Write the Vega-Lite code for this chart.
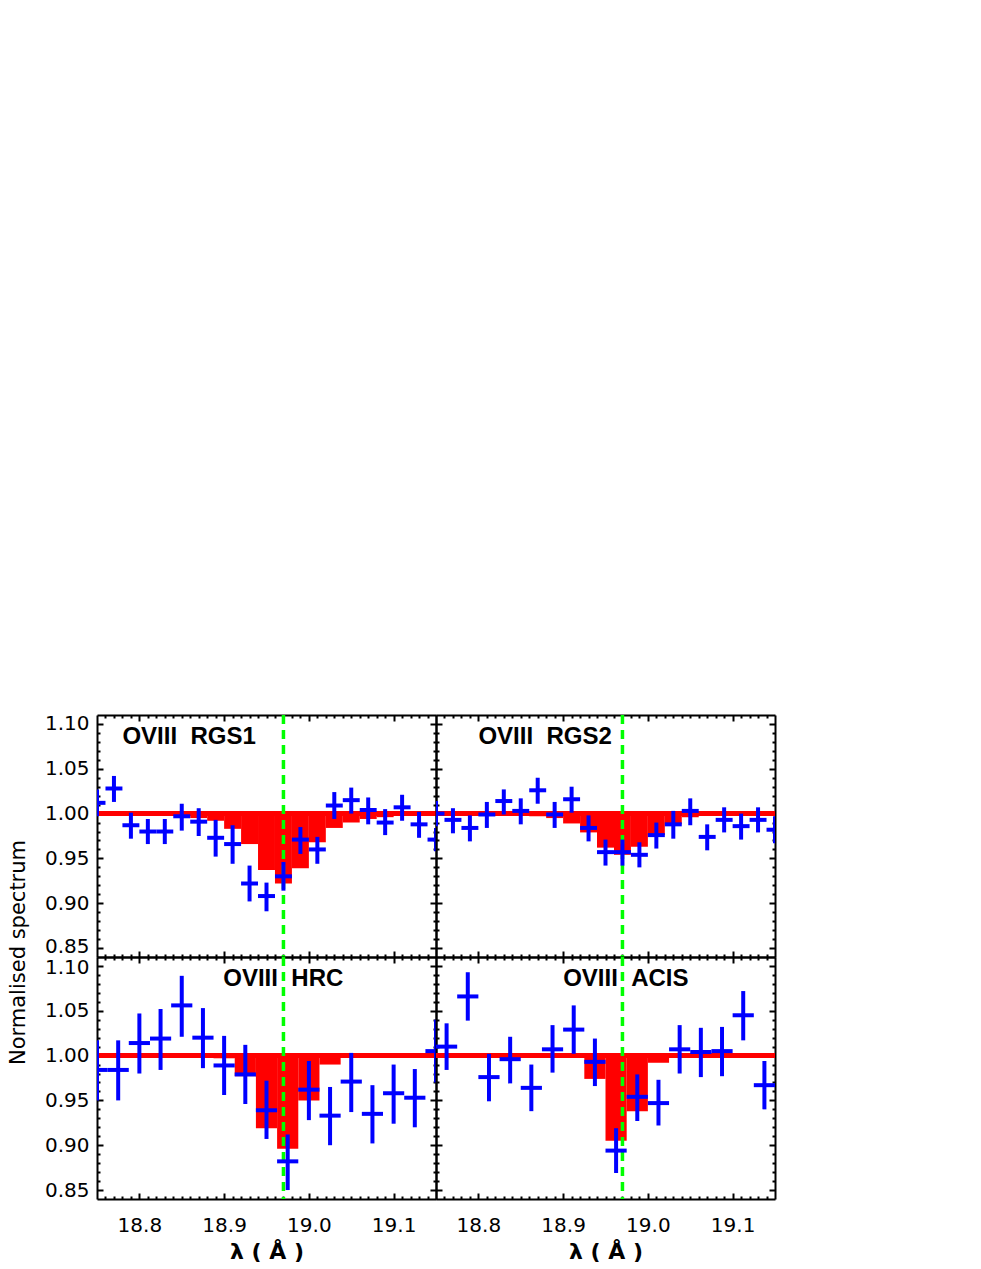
{
  "$schema": "https://vega.github.io/schema/vega-lite/v6.json",
  "autosize": "none",
  "padding": {"left": 97, "top": 715, "right": 884, "bottom": 554},
  "background": "white",
  "config": {
    "view": {"stroke": null},
    "axis": {"domainColor": "black", "domainWidth": 2, "tickColor": "black", "tickWidth": 2, "grid": false,
      "labelFont": "DejaVu Sans", "labelFontSize": 20, "labelColor": "black", "labelOverlap": false, "labelFlush": false,
      "titleFont": "DejaVu Sans", "titleColor": "black", "titleFontWeight": "normal", "titleFontSize": 21}
  },
  "datasets": {
    "rgs1_pts": [
      {"x": 18.75, "xl": 18.74, "xh": 18.76, "v": 1.012, "lo": 0.997, "hi": 1.027},
      {"x": 18.77, "xl": 18.76, "xh": 18.78, "v": 1.028, "lo": 1.013, "hi": 1.042},
      {"x": 18.79, "xl": 18.78, "xh": 18.80, "v": 0.987, "lo": 0.972, "hi": 1.001},
      {"x": 18.81, "xl": 18.80, "xh": 18.82, "v": 0.980, "lo": 0.966, "hi": 0.994},
      {"x": 18.83, "xl": 18.82, "xh": 18.84, "v": 0.980, "lo": 0.966, "hi": 0.994},
      {"x": 18.85, "xl": 18.84, "xh": 18.86, "v": 0.997, "lo": 0.981, "hi": 1.011},
      {"x": 18.87, "xl": 18.86, "xh": 18.88, "v": 0.991, "lo": 0.975, "hi": 1.006},
      {"x": 18.89, "xl": 18.88, "xh": 18.90, "v": 0.973, "lo": 0.952, "hi": 0.993},
      {"x": 18.91, "xl": 18.90, "xh": 18.92, "v": 0.966, "lo": 0.944, "hi": 0.987},
      {"x": 18.93, "xl": 18.92, "xh": 18.94, "v": 0.922, "lo": 0.902, "hi": 0.942},
      {"x": 18.95, "xl": 18.94, "xh": 18.96, "v": 0.908, "lo": 0.891, "hi": 0.923},
      {"x": 18.97, "xl": 18.96, "xh": 18.98, "v": 0.930, "lo": 0.914, "hi": 0.946},
      {"x": 18.99, "xl": 18.98, "xh": 19.00, "v": 0.971, "lo": 0.955, "hi": 0.985},
      {"x": 19.01, "xl": 19.00, "xh": 19.02, "v": 0.960, "lo": 0.944, "hi": 0.974},
      {"x": 19.03, "xl": 19.02, "xh": 19.04, "v": 1.009, "lo": 0.994, "hi": 1.024},
      {"x": 19.05, "xl": 19.04, "xh": 19.06, "v": 1.015, "lo": 1.000, "hi": 1.029},
      {"x": 19.07, "xl": 19.06, "xh": 19.08, "v": 1.004, "lo": 0.988, "hi": 1.018},
      {"x": 19.09, "xl": 19.08, "xh": 19.10, "v": 0.990, "lo": 0.976, "hi": 1.005},
      {"x": 19.11, "xl": 19.10, "xh": 19.12, "v": 1.007, "lo": 0.992, "hi": 1.021},
      {"x": 19.13, "xl": 19.12, "xh": 19.14, "v": 0.988, "lo": 0.973, "hi": 1.002},
      {"x": 19.15, "xl": 19.14, "xh": 19.16, "v": 0.971, "lo": 0.958, "hi": 0.984}
    ],
    "rgs1_mod": [
      {"x1": 18.86, "x2": 18.88, "m": 0.995},
      {"x1": 18.88, "x2": 18.90, "m": 0.992},
      {"x1": 18.90, "x2": 18.92, "m": 0.983},
      {"x1": 18.92, "x2": 18.94, "m": 0.966},
      {"x1": 18.94, "x2": 18.96, "m": 0.937},
      {"x1": 18.96, "x2": 18.98, "m": 0.922},
      {"x1": 18.98, "x2": 19.00, "m": 0.939},
      {"x1": 19.00, "x2": 19.02, "m": 0.968},
      {"x1": 19.02, "x2": 19.04, "m": 0.984},
      {"x1": 19.04, "x2": 19.06, "m": 0.990},
      {"x1": 19.06, "x2": 19.08, "m": 0.994},
      {"x1": 19.08, "x2": 19.10, "m": 0.996}
    ],
    "rgs2_pts": [
      {"x": 18.75, "xl": 18.74, "xh": 18.76, "v": 1.000, "lo": 0.986, "hi": 1.014},
      {"x": 18.77, "xl": 18.76, "xh": 18.78, "v": 0.993, "lo": 0.978, "hi": 1.006},
      {"x": 18.79, "xl": 18.78, "xh": 18.80, "v": 0.984, "lo": 0.969, "hi": 0.998},
      {"x": 18.81, "xl": 18.80, "xh": 18.82, "v": 0.999, "lo": 0.984, "hi": 1.013},
      {"x": 18.83, "xl": 18.82, "xh": 18.84, "v": 1.014, "lo": 0.999, "hi": 1.027},
      {"x": 18.85, "xl": 18.84, "xh": 18.86, "v": 1.003, "lo": 0.988, "hi": 1.017},
      {"x": 18.87, "xl": 18.86, "xh": 18.88, "v": 1.026, "lo": 1.011, "hi": 1.040},
      {"x": 18.89, "xl": 18.88, "xh": 18.90, "v": 0.999, "lo": 0.984, "hi": 1.013},
      {"x": 18.91, "xl": 18.90, "xh": 18.92, "v": 1.016, "lo": 1.001, "hi": 1.030},
      {"x": 18.93, "xl": 18.92, "xh": 18.94, "v": 0.984, "lo": 0.969, "hi": 0.998},
      {"x": 18.95, "xl": 18.94, "xh": 18.96, "v": 0.957, "lo": 0.942, "hi": 0.971},
      {"x": 18.97, "xl": 18.96, "xh": 18.98, "v": 0.957, "lo": 0.942, "hi": 0.971},
      {"x": 18.99, "xl": 18.98, "xh": 19.00, "v": 0.954, "lo": 0.940, "hi": 0.968},
      {"x": 19.01, "xl": 19.00, "xh": 19.02, "v": 0.976, "lo": 0.961, "hi": 0.990},
      {"x": 19.03, "xl": 19.02, "xh": 19.04, "v": 0.988, "lo": 0.972, "hi": 1.003},
      {"x": 19.05, "xl": 19.04, "xh": 19.06, "v": 1.003, "lo": 0.987, "hi": 1.017},
      {"x": 19.07, "xl": 19.06, "xh": 19.08, "v": 0.974, "lo": 0.959, "hi": 0.988},
      {"x": 19.09, "xl": 19.08, "xh": 19.10, "v": 0.993, "lo": 0.979, "hi": 1.007},
      {"x": 19.11, "xl": 19.10, "xh": 19.12, "v": 0.986, "lo": 0.971, "hi": 1.000},
      {"x": 19.13, "xl": 19.12, "xh": 19.14, "v": 0.993, "lo": 0.979, "hi": 1.007},
      {"x": 19.15, "xl": 19.14, "xh": 19.16, "v": 0.982, "lo": 0.967, "hi": 0.997}
    ],
    "rgs2_mod": [
      {"x1": 18.86, "x2": 18.88, "m": 0.997},
      {"x1": 18.88, "x2": 18.90, "m": 0.995},
      {"x1": 18.90, "x2": 18.92, "m": 0.989},
      {"x1": 18.92, "x2": 18.94, "m": 0.979},
      {"x1": 18.94, "x2": 18.96, "m": 0.962},
      {"x1": 18.96, "x2": 18.98, "m": 0.954},
      {"x1": 18.98, "x2": 19.00, "m": 0.963},
      {"x1": 19.00, "x2": 19.02, "m": 0.976},
      {"x1": 19.02, "x2": 19.04, "m": 0.988},
      {"x1": 19.04, "x2": 19.06, "m": 0.996}
    ],
    "hrc_pts": [
      {"x": 18.750, "xl": 18.7375, "xh": 18.7625, "v": 0.984, "lo": 0.950, "hi": 1.017},
      {"x": 18.775, "xl": 18.7625, "xh": 18.7875, "v": 0.984, "lo": 0.950, "hi": 1.017},
      {"x": 18.800, "xl": 18.7875, "xh": 18.8125, "v": 1.014, "lo": 0.980, "hi": 1.047},
      {"x": 18.825, "xl": 18.8125, "xh": 18.8375, "v": 1.019, "lo": 0.984, "hi": 1.052},
      {"x": 18.850, "xl": 18.8375, "xh": 18.8625, "v": 1.056, "lo": 1.021, "hi": 1.089},
      {"x": 18.875, "xl": 18.8625, "xh": 18.8875, "v": 1.020, "lo": 0.986, "hi": 1.053},
      {"x": 18.900, "xl": 18.8875, "xh": 18.9125, "v": 0.989, "lo": 0.956, "hi": 1.022},
      {"x": 18.925, "xl": 18.9125, "xh": 18.9375, "v": 0.979, "lo": 0.946, "hi": 1.012},
      {"x": 18.950, "xl": 18.9375, "xh": 18.9625, "v": 0.939, "lo": 0.907, "hi": 0.972},
      {"x": 18.975, "xl": 18.9625, "xh": 18.9875, "v": 0.882, "lo": 0.850, "hi": 0.912},
      {"x": 19.000, "xl": 18.9875, "xh": 19.0125, "v": 0.962, "lo": 0.928, "hi": 0.994},
      {"x": 19.025, "xl": 19.0125, "xh": 19.0375, "v": 0.933, "lo": 0.900, "hi": 0.965},
      {"x": 19.050, "xl": 19.0375, "xh": 19.0625, "v": 0.971, "lo": 0.937, "hi": 1.003},
      {"x": 19.075, "xl": 19.0625, "xh": 19.0875, "v": 0.935, "lo": 0.902, "hi": 0.967},
      {"x": 19.100, "xl": 19.0875, "xh": 19.1125, "v": 0.958, "lo": 0.924, "hi": 0.990},
      {"x": 19.125, "xl": 19.1125, "xh": 19.1375, "v": 0.953, "lo": 0.920, "hi": 0.985},
      {"x": 19.150, "xl": 19.1375, "xh": 19.1625, "v": 1.005, "lo": 0.970, "hi": 1.040}
    ],
    "hrc_mod": [
      {"x1": 18.8875, "x2": 18.9125, "m": 0.997},
      {"x1": 18.9125, "x2": 18.9375, "m": 0.977},
      {"x1": 18.9375, "x2": 18.9625, "m": 0.919},
      {"x1": 18.9625, "x2": 18.9875, "m": 0.896},
      {"x1": 18.9875, "x2": 19.0125, "m": 0.950},
      {"x1": 19.0125, "x2": 19.0375, "m": 0.990}
    ],
    "acis_pts": [
      {"x": 18.7625, "xl": 18.750, "xh": 18.775, "v": 1.010, "lo": 0.984, "hi": 1.036},
      {"x": 18.7875, "xl": 18.775, "xh": 18.800, "v": 1.066, "lo": 1.039, "hi": 1.093},
      {"x": 18.8125, "xl": 18.800, "xh": 18.825, "v": 0.976, "lo": 0.949, "hi": 1.002},
      {"x": 18.8375, "xl": 18.825, "xh": 18.850, "v": 0.996, "lo": 0.969, "hi": 1.021},
      {"x": 18.8625, "xl": 18.850, "xh": 18.875, "v": 0.964, "lo": 0.938, "hi": 0.990},
      {"x": 18.8875, "xl": 18.875, "xh": 18.900, "v": 1.007, "lo": 0.981, "hi": 1.034},
      {"x": 18.9125, "xl": 18.900, "xh": 18.925, "v": 1.029, "lo": 1.002, "hi": 1.056},
      {"x": 18.9375, "xl": 18.925, "xh": 18.950, "v": 0.993, "lo": 0.966, "hi": 1.019},
      {"x": 18.9625, "xl": 18.950, "xh": 18.975, "v": 0.894, "lo": 0.869, "hi": 0.919},
      {"x": 18.9875, "xl": 18.975, "xh": 19.000, "v": 0.954, "lo": 0.927, "hi": 0.979},
      {"x": 19.0125, "xl": 19.000, "xh": 19.025, "v": 0.947, "lo": 0.922, "hi": 0.973},
      {"x": 19.0375, "xl": 19.025, "xh": 19.050, "v": 1.007, "lo": 0.980, "hi": 1.034},
      {"x": 19.0625, "xl": 19.050, "xh": 19.075, "v": 1.004, "lo": 0.976, "hi": 1.031},
      {"x": 19.0875, "xl": 19.075, "xh": 19.100, "v": 1.005, "lo": 0.977, "hi": 1.032},
      {"x": 19.1125, "xl": 19.100, "xh": 19.125, "v": 1.045, "lo": 1.017, "hi": 1.072},
      {"x": 19.1375, "xl": 19.125, "xh": 19.150, "v": 0.967, "lo": 0.940, "hi": 0.994}
    ],
    "acis_mod": [
      {"x1": 18.925, "x2": 18.950, "m": 0.974},
      {"x1": 18.950, "x2": 18.975, "m": 0.905},
      {"x1": 18.975, "x2": 19.000, "m": 0.938},
      {"x1": 19.000, "x2": 19.025, "m": 0.992}
    ],
    "one": [{}]
  },
  "columns": 2,
  "spacing": 0,
  "bounds": "flush",
  "concat": [
    {
      "width": 339, "height": 242,
      "resolve": {"axis": {"x": "independent", "y": "independent"}},
      "layer": [
        {"data": {"name": "rgs1_mod"}, "mark": {"type": "rect", "color": "#ff0000"},
         "encoding": {
           "x": {"field": "x1", "type": "quantitative", "scale": {"domain": [18.75, 19.15], "nice": false, "zero": false},
                 "axis": {"orient": "bottom", "values": [18.76,18.77,18.78,18.79,18.8,18.81,18.82,18.83,18.84,18.85,18.86,18.87,18.88,18.89,18.9,18.91,18.92,18.93,18.94,18.95,18.96,18.97,18.98,18.99,19,19.01,19.02,19.03,19.04,19.05,19.06,19.07,19.08,19.09,19.1,19.11,19.12,19.13,19.14],
                          "labels": false, "title": null,
                          "tickSize": {"condition": {"test": "round(datum.value*100) % 10 == 0", "value": -6}, "value": -3}}},
           "x2": {"field": "x2"},
           "y": {"field": "m", "type": "quantitative", "scale": {"domain": [0.84, 1.11], "nice": false, "zero": false},
                 "axis": {"orient": "left", "values": [0.85,0.86,0.87,0.88,0.89,0.9,0.91,0.92,0.93,0.94,0.95,0.96,0.97,0.98,0.99,1,1.01,1.02,1.03,1.04,1.05,1.06,1.07,1.08,1.09,1.1],
                          "labelExpr": "round(datum.value*100) % 5 == 0 ? format(datum.value, '.2f') : ''",
                          "labelPadding": 14,
                          "labelOffset": {"condition": {"test": "round(datum.value*100) == 85", "value": -2}, "value": 0},
                          "title": "Normalised spectrum", "titleX": -79, "titleY": 237, "titleBaseline": "middle", "titleAngle": 270,
                          "tickSize": {"condition": {"test": "round(datum.value*100) % 5 == 0", "value": -6}, "value": -3}}},
           "y2": {"datum": 1}
         }},
        {"data": {"name": "one"}, "mark": {"type": "rule", "color": "#ff0000", "strokeWidth": 5},
         "encoding": {"y": {"datum": 1, "type": "quantitative", "scale": {"domain": [0.84, 1.11], "nice": false, "zero": false}, "axis": null}}},
        {"data": {"name": "one"}, "mark": {"type": "rule", "color": "#00ff00", "strokeWidth": 3.5, "strokeDash": [9, 6]},
         "encoding": {"x": {"datum": 18.97, "type": "quantitative", "scale": {"domain": [18.75, 19.15], "nice": false, "zero": false}, "axis": null}}},
        {"data": {"name": "rgs1_pts"}, "mark": {"type": "rule", "color": "#0000ff", "strokeWidth": 4, "clip": true},
         "encoding": {
           "x": {"field": "xl", "type": "quantitative", "scale": {"domain": [18.75, 19.15], "nice": false, "zero": false},
                 "axis": {"orient": "top", "values": [18.76,18.77,18.78,18.79,18.8,18.81,18.82,18.83,18.84,18.85,18.86,18.87,18.88,18.89,18.9,18.91,18.92,18.93,18.94,18.95,18.96,18.97,18.98,18.99,19,19.01,19.02,19.03,19.04,19.05,19.06,19.07,19.08,19.09,19.1,19.11,19.12,19.13,19.14],
                          "labels": false, "title": null,
                          "tickSize": {"condition": {"test": "round(datum.value*100) % 10 == 0", "value": -6}, "value": -3}}},
           "x2": {"field": "xh"},
           "y": {"field": "v", "type": "quantitative", "scale": {"domain": [0.84, 1.11], "nice": false, "zero": false},
                 "axis": {"orient": "right", "values": [0.85,0.86,0.87,0.88,0.89,0.9,0.91,0.92,0.93,0.94,0.95,0.96,0.97,0.98,0.99,1,1.01,1.02,1.03,1.04,1.05,1.06,1.07,1.08,1.09,1.1],
                          "labels": false, "title": null,
                          "tickSize": {"condition": {"test": "round(datum.value*100) % 5 == 0", "value": -6}, "value": -3}}}
         }},
        {"data": {"name": "rgs1_pts"}, "mark": {"type": "rule", "color": "#0000ff", "strokeWidth": 4, "clip": true},
         "encoding": {
           "x": {"field": "x", "type": "quantitative", "scale": {"domain": [18.75, 19.15], "nice": false, "zero": false}, "axis": null},
           "y": {"field": "lo", "type": "quantitative", "scale": {"domain": [0.84, 1.11], "nice": false, "zero": false}, "axis": null},
           "y2": {"field": "hi"}
         }},
        {"data": {"name": "one"}, "mark": {"type": "text", "text": "OVIII\u00a0\u00a0RGS1", "font": "Liberation Sans", "fontWeight": "bold", "fontSize": 24, "align": "left", "baseline": "alphabetic", "color": "black"},
         "encoding": {
           "x": {"datum": 18.78, "type": "quantitative", "scale": {"domain": [18.75, 19.15], "nice": false, "zero": false}, "axis": null},
           "y": {"datum": 1.078, "type": "quantitative", "scale": {"domain": [0.84, 1.11], "nice": false, "zero": false}, "axis": null}
         }}
      ]
    },
    {
      "width": 339, "height": 242,
      "resolve": {"axis": {"x": "independent", "y": "independent"}},
      "layer": [
        {"data": {"name": "rgs2_mod"}, "mark": {"type": "rect", "color": "#ff0000"},
         "encoding": {
           "x": {"field": "x1", "type": "quantitative", "scale": {"domain": [18.75, 19.15], "nice": false, "zero": false},
                 "axis": {"orient": "bottom", "values": [18.76,18.77,18.78,18.79,18.8,18.81,18.82,18.83,18.84,18.85,18.86,18.87,18.88,18.89,18.9,18.91,18.92,18.93,18.94,18.95,18.96,18.97,18.98,18.99,19,19.01,19.02,19.03,19.04,19.05,19.06,19.07,19.08,19.09,19.1,19.11,19.12,19.13,19.14],
                          "labels": false, "title": null,
                          "tickSize": {"condition": {"test": "round(datum.value*100) % 10 == 0", "value": -6}, "value": -3}}},
           "x2": {"field": "x2"},
           "y": {"field": "m", "type": "quantitative", "scale": {"domain": [0.84, 1.11], "nice": false, "zero": false},
                 "axis": {"orient": "left", "values": [0.85,0.86,0.87,0.88,0.89,0.9,0.91,0.92,0.93,0.94,0.95,0.96,0.97,0.98,0.99,1,1.01,1.02,1.03,1.04,1.05,1.06,1.07,1.08,1.09,1.1],
                          "labels": false, "title": null,
                          "tickSize": {"condition": {"test": "round(datum.value*100) % 5 == 0", "value": -6}, "value": -3}}},
           "y2": {"datum": 1}
         }},
        {"data": {"name": "one"}, "mark": {"type": "rule", "color": "#ff0000", "strokeWidth": 5},
         "encoding": {"y": {"datum": 1, "type": "quantitative", "scale": {"domain": [0.84, 1.11], "nice": false, "zero": false}, "axis": null}}},
        {"data": {"name": "one"}, "mark": {"type": "rule", "color": "#00ff00", "strokeWidth": 3.5, "strokeDash": [9, 6]},
         "encoding": {"x": {"datum": 18.97, "type": "quantitative", "scale": {"domain": [18.75, 19.15], "nice": false, "zero": false}, "axis": null}}},
        {"data": {"name": "rgs2_pts"}, "mark": {"type": "rule", "color": "#0000ff", "strokeWidth": 4, "clip": true},
         "encoding": {
           "x": {"field": "xl", "type": "quantitative", "scale": {"domain": [18.75, 19.15], "nice": false, "zero": false},
                 "axis": {"orient": "top", "values": [18.76,18.77,18.78,18.79,18.8,18.81,18.82,18.83,18.84,18.85,18.86,18.87,18.88,18.89,18.9,18.91,18.92,18.93,18.94,18.95,18.96,18.97,18.98,18.99,19,19.01,19.02,19.03,19.04,19.05,19.06,19.07,19.08,19.09,19.1,19.11,19.12,19.13,19.14],
                          "labels": false, "title": null,
                          "tickSize": {"condition": {"test": "round(datum.value*100) % 10 == 0", "value": -6}, "value": -3}}},
           "x2": {"field": "xh"},
           "y": {"field": "v", "type": "quantitative", "scale": {"domain": [0.84, 1.11], "nice": false, "zero": false},
                 "axis": {"orient": "right", "values": [0.85,0.86,0.87,0.88,0.89,0.9,0.91,0.92,0.93,0.94,0.95,0.96,0.97,0.98,0.99,1,1.01,1.02,1.03,1.04,1.05,1.06,1.07,1.08,1.09,1.1],
                          "labels": false, "title": null,
                          "tickSize": {"condition": {"test": "round(datum.value*100) % 5 == 0", "value": -6}, "value": -3}}}
         }},
        {"data": {"name": "rgs2_pts"}, "mark": {"type": "rule", "color": "#0000ff", "strokeWidth": 4, "clip": true},
         "encoding": {
           "x": {"field": "x", "type": "quantitative", "scale": {"domain": [18.75, 19.15], "nice": false, "zero": false}, "axis": null},
           "y": {"field": "lo", "type": "quantitative", "scale": {"domain": [0.84, 1.11], "nice": false, "zero": false}, "axis": null},
           "y2": {"field": "hi"}
         }},
        {"data": {"name": "one"}, "mark": {"type": "text", "text": "OVIII\u00a0\u00a0RGS2", "font": "Liberation Sans", "fontWeight": "bold", "fontSize": 24, "align": "left", "baseline": "alphabetic", "color": "black"},
         "encoding": {
           "x": {"datum": 18.80, "type": "quantitative", "scale": {"domain": [18.75, 19.15], "nice": false, "zero": false}, "axis": null},
           "y": {"datum": 1.078, "type": "quantitative", "scale": {"domain": [0.84, 1.11], "nice": false, "zero": false}, "axis": null}
         }}
      ]
    },
    {
      "width": 339, "height": 242,
      "resolve": {"axis": {"x": "independent", "y": "independent"}},
      "layer": [
        {"data": {"name": "hrc_mod"}, "mark": {"type": "rect", "color": "#ff0000"},
         "encoding": {
           "x": {"field": "x1", "type": "quantitative", "scale": {"domain": [18.75, 19.15], "nice": false, "zero": false},
                 "axis": {"orient": "bottom", "values": [18.76,18.77,18.78,18.79,18.8,18.81,18.82,18.83,18.84,18.85,18.86,18.87,18.88,18.89,18.9,18.91,18.92,18.93,18.94,18.95,18.96,18.97,18.98,18.99,19,19.01,19.02,19.03,19.04,19.05,19.06,19.07,19.08,19.09,19.1,19.11,19.12,19.13,19.14],
                          "labelExpr": "round(datum.value*100) % 10 == 0 ? format(datum.value, '.1f') : ''",
                          "labelPadding": 22,
                          "title": "λ ( Å )", "titleFontWeight": "bold", "titleFontSize": 22, "titlePadding": 3,
                          "tickSize": {"condition": {"test": "round(datum.value*100) % 10 == 0", "value": -6}, "value": -3}}},
           "x2": {"field": "x2"},
           "y": {"field": "m", "type": "quantitative", "scale": {"domain": [0.84, 1.11], "nice": false, "zero": false},
                 "axis": {"orient": "left", "values": [0.85,0.86,0.87,0.88,0.89,0.9,0.91,0.92,0.93,0.94,0.95,0.96,0.97,0.98,0.99,1,1.01,1.02,1.03,1.04,1.05,1.06,1.07,1.08,1.09,1.1],
                          "labelExpr": "round(datum.value*100) % 5 == 0 ? format(datum.value, '.2f') : ''",
                          "labelPadding": 14, "title": null,
                          "labelOffset": {"condition": {"test": "round(datum.value*100) == 110", "value": 2}, "value": 0},
                          "tickSize": {"condition": {"test": "round(datum.value*100) % 5 == 0", "value": -6}, "value": -3}}},
           "y2": {"datum": 1}
         }},
        {"data": {"name": "one"}, "mark": {"type": "rule", "color": "#ff0000", "strokeWidth": 5},
         "encoding": {"y": {"datum": 1, "type": "quantitative", "scale": {"domain": [0.84, 1.11], "nice": false, "zero": false}, "axis": null}}},
        {"data": {"name": "one"}, "mark": {"type": "rule", "color": "#00ff00", "strokeWidth": 3.5, "strokeDash": [9, 6]},
         "encoding": {"x": {"datum": 18.97, "type": "quantitative", "scale": {"domain": [18.75, 19.15], "nice": false, "zero": false}, "axis": null}}},
        {"data": {"name": "hrc_pts"}, "mark": {"type": "rule", "color": "#0000ff", "strokeWidth": 4, "clip": true},
         "encoding": {
           "x": {"field": "xl", "type": "quantitative", "scale": {"domain": [18.75, 19.15], "nice": false, "zero": false},
                 "axis": {"orient": "top", "values": [18.76,18.77,18.78,18.79,18.8,18.81,18.82,18.83,18.84,18.85,18.86,18.87,18.88,18.89,18.9,18.91,18.92,18.93,18.94,18.95,18.96,18.97,18.98,18.99,19,19.01,19.02,19.03,19.04,19.05,19.06,19.07,19.08,19.09,19.1,19.11,19.12,19.13,19.14],
                          "labels": false, "title": null,
                          "tickSize": {"condition": {"test": "round(datum.value*100) % 10 == 0", "value": -6}, "value": -3}}},
           "x2": {"field": "xh"},
           "y": {"field": "v", "type": "quantitative", "scale": {"domain": [0.84, 1.11], "nice": false, "zero": false},
                 "axis": {"orient": "right", "values": [0.85,0.86,0.87,0.88,0.89,0.9,0.91,0.92,0.93,0.94,0.95,0.96,0.97,0.98,0.99,1,1.01,1.02,1.03,1.04,1.05,1.06,1.07,1.08,1.09,1.1],
                          "labels": false, "title": null,
                          "tickSize": {"condition": {"test": "round(datum.value*100) % 5 == 0", "value": -6}, "value": -3}}}
         }},
        {"data": {"name": "hrc_pts"}, "mark": {"type": "rule", "color": "#0000ff", "strokeWidth": 4, "clip": true},
         "encoding": {
           "x": {"field": "x", "type": "quantitative", "scale": {"domain": [18.75, 19.15], "nice": false, "zero": false}, "axis": null},
           "y": {"field": "lo", "type": "quantitative", "scale": {"domain": [0.84, 1.11], "nice": false, "zero": false}, "axis": null},
           "y2": {"field": "hi"}
         }},
        {"data": {"name": "one"}, "mark": {"type": "text", "text": "OVIII\u00a0\u00a0HRC", "font": "Liberation Sans", "fontWeight": "bold", "fontSize": 24, "align": "left", "baseline": "alphabetic", "color": "black"},
         "encoding": {
           "x": {"datum": 18.899, "type": "quantitative", "scale": {"domain": [18.75, 19.15], "nice": false, "zero": false}, "axis": null},
           "y": {"datum": 1.078, "type": "quantitative", "scale": {"domain": [0.84, 1.11], "nice": false, "zero": false}, "axis": null}
         }}
      ]
    },
    {
      "width": 339, "height": 242,
      "resolve": {"axis": {"x": "independent", "y": "independent"}},
      "layer": [
        {"data": {"name": "acis_mod"}, "mark": {"type": "rect", "color": "#ff0000"},
         "encoding": {
           "x": {"field": "x1", "type": "quantitative", "scale": {"domain": [18.75, 19.15], "nice": false, "zero": false},
                 "axis": {"orient": "bottom", "values": [18.76,18.77,18.78,18.79,18.8,18.81,18.82,18.83,18.84,18.85,18.86,18.87,18.88,18.89,18.9,18.91,18.92,18.93,18.94,18.95,18.96,18.97,18.98,18.99,19,19.01,19.02,19.03,19.04,19.05,19.06,19.07,19.08,19.09,19.1,19.11,19.12,19.13,19.14],
                          "labelExpr": "round(datum.value*100) % 10 == 0 ? format(datum.value, '.1f') : ''",
                          "labelPadding": 22,
                          "title": "λ ( Å )", "titleFontWeight": "bold", "titleFontSize": 22, "titlePadding": 3,
                          "tickSize": {"condition": {"test": "round(datum.value*100) % 10 == 0", "value": -6}, "value": -3}}},
           "x2": {"field": "x2"},
           "y": {"field": "m", "type": "quantitative", "scale": {"domain": [0.84, 1.11], "nice": false, "zero": false},
                 "axis": {"orient": "left", "values": [0.85,0.86,0.87,0.88,0.89,0.9,0.91,0.92,0.93,0.94,0.95,0.96,0.97,0.98,0.99,1,1.01,1.02,1.03,1.04,1.05,1.06,1.07,1.08,1.09,1.1],
                          "labels": false, "title": null,
                          "tickSize": {"condition": {"test": "round(datum.value*100) % 5 == 0", "value": -6}, "value": -3}}},
           "y2": {"datum": 1}
         }},
        {"data": {"name": "one"}, "mark": {"type": "rule", "color": "#ff0000", "strokeWidth": 5},
         "encoding": {"y": {"datum": 1, "type": "quantitative", "scale": {"domain": [0.84, 1.11], "nice": false, "zero": false}, "axis": null}}},
        {"data": {"name": "one"}, "mark": {"type": "rule", "color": "#00ff00", "strokeWidth": 3.5, "strokeDash": [9, 6]},
         "encoding": {"x": {"datum": 18.97, "type": "quantitative", "scale": {"domain": [18.75, 19.15], "nice": false, "zero": false}, "axis": null}}},
        {"data": {"name": "acis_pts"}, "mark": {"type": "rule", "color": "#0000ff", "strokeWidth": 4, "clip": true},
         "encoding": {
           "x": {"field": "xl", "type": "quantitative", "scale": {"domain": [18.75, 19.15], "nice": false, "zero": false},
                 "axis": {"orient": "top", "values": [18.76,18.77,18.78,18.79,18.8,18.81,18.82,18.83,18.84,18.85,18.86,18.87,18.88,18.89,18.9,18.91,18.92,18.93,18.94,18.95,18.96,18.97,18.98,18.99,19,19.01,19.02,19.03,19.04,19.05,19.06,19.07,19.08,19.09,19.1,19.11,19.12,19.13,19.14],
                          "labels": false, "title": null,
                          "tickSize": {"condition": {"test": "round(datum.value*100) % 10 == 0", "value": -6}, "value": -3}}},
           "x2": {"field": "xh"},
           "y": {"field": "v", "type": "quantitative", "scale": {"domain": [0.84, 1.11], "nice": false, "zero": false},
                 "axis": {"orient": "right", "values": [0.85,0.86,0.87,0.88,0.89,0.9,0.91,0.92,0.93,0.94,0.95,0.96,0.97,0.98,0.99,1,1.01,1.02,1.03,1.04,1.05,1.06,1.07,1.08,1.09,1.1],
                          "labels": false, "title": null,
                          "tickSize": {"condition": {"test": "round(datum.value*100) % 5 == 0", "value": -6}, "value": -3}}}
         }},
        {"data": {"name": "acis_pts"}, "mark": {"type": "rule", "color": "#0000ff", "strokeWidth": 4, "clip": true},
         "encoding": {
           "x": {"field": "x", "type": "quantitative", "scale": {"domain": [18.75, 19.15], "nice": false, "zero": false}, "axis": null},
           "y": {"field": "lo", "type": "quantitative", "scale": {"domain": [0.84, 1.11], "nice": false, "zero": false}, "axis": null},
           "y2": {"field": "hi"}
         }},
        {"data": {"name": "one"}, "mark": {"type": "text", "text": "OVIII\u00a0\u00a0ACIS", "font": "Liberation Sans", "fontWeight": "bold", "fontSize": 24, "align": "left", "baseline": "alphabetic", "color": "black"},
         "encoding": {
           "x": {"datum": 18.90, "type": "quantitative", "scale": {"domain": [18.75, 19.15], "nice": false, "zero": false}, "axis": null},
           "y": {"datum": 1.078, "type": "quantitative", "scale": {"domain": [0.84, 1.11], "nice": false, "zero": false}, "axis": null}
         }}
      ]
    }
  ]
}
